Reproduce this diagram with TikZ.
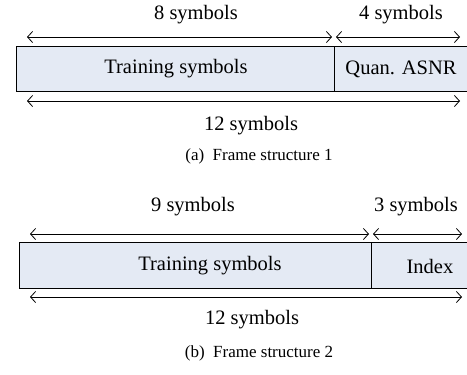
\documentclass[tikz,border=0pt]{standalone}
\usepackage{fontspec}
\setmainfont{Liberation Serif}
\usetikzlibrary{arrows.meta}
\definecolor{boxfill}{RGB}{228,234,244}
\tikzset{
  lbl/.style={font=\fontsize{20.5}{24}\selectfont, inner sep=0pt},
  captxt/.style={font=\fontsize{17}{21}\selectfont, inner sep=0pt},
  seg/.style={draw=black, line width=0.9pt, fill=boxfill},
  dim/.style={line width=0.8pt, {Straight Barb[length=5pt,width=11pt]}-{Straight Barb[length=5pt,width=11pt]}}
}
\begin{document}
\begin{tikzpicture}[x=1pt,y=-1pt]
\useasboundingbox (0,0) rectangle (467,375);
% Frame 1
\draw[seg] (16,46) rectangle (334,91);
\draw[seg] (334,46) rectangle (470,91);
\node[lbl] (t1) at (176,69) {Training symbols};
\node[lbl] (q1) at (401,69) {Quan. ASNR};
\coordinate (a1l) at (27,37); \coordinate (a1m) at (332,37);
\coordinate (a1n) at (336,37); \coordinate (a1r) at (460,37);
\draw[dim] (a1l) -- (a1m);
\draw[dim] (a1n) -- (a1r);
\coordinate (b1l) at (27,101); \coordinate (b1r) at (460,101);
\draw[dim] (b1l) -- (b1r);
\node[lbl] (s8) at (196,15) {8 symbols};
\node[lbl] (s4) at (401,15) {4 symbols};
\node[lbl] (s12a) at (251,126) {12 symbols};
\node[captxt] (capa) at (259,156) {(a)\ \ Frame structure 1};
% Frame 2
\draw[seg] (19,242) rectangle (371,288);
\draw[seg] (371,242) rectangle (470,288);
\node[lbl] (t2) at (210,266) {Training symbols};
\node[lbl] (ix) at (430,266) {Index};
\coordinate (a2l) at (30,234); \coordinate (a2m) at (369,234);
\coordinate (a2n) at (373,234); \coordinate (a2r) at (462,234);
\draw[dim] (a2l) -- (a2m);
\draw[dim] (a2n) -- (a2r);
\coordinate (b2l) at (30,297); \coordinate (b2r) at (462,297);
\draw[dim] (b2l) -- (b2r);
\node[lbl] (s9) at (193,207) {9 symbols};
\node[lbl] (s3) at (416,207) {3 symbols};
\node[lbl] (s12b) at (252,320) {12 symbols};
\node[captxt] (capb) at (259,353) {(b)\ \ Frame structure 2};
\end{tikzpicture}
\end{document}
